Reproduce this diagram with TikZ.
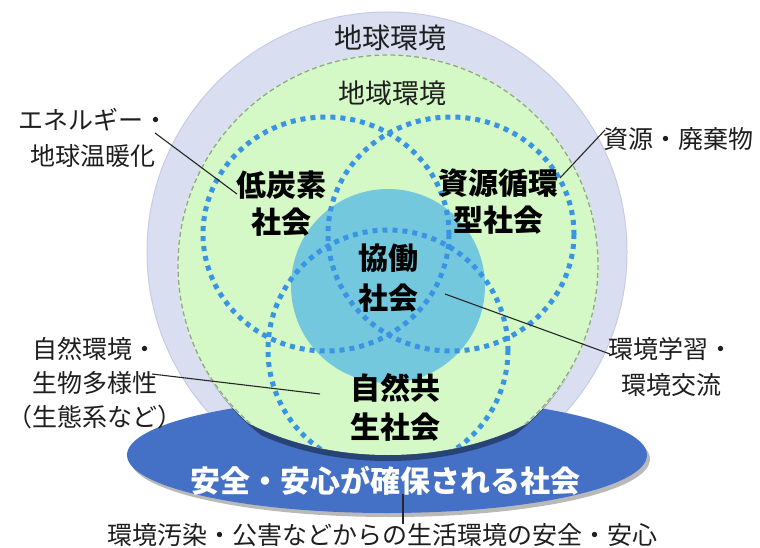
\documentclass[tikz,border=0pt]{standalone}
\usepackage{fontspec}
\setmainfont{Noto Sans CJK JP}
\definecolor{lav}{RGB}{218,222,241}
\definecolor{lavb}{RGB}{198,204,232}
\definecolor{grn}{RGB}{212,249,198}
\definecolor{grnb}{RGB}{150,162,150}
\definecolor{tealc}{RGB}{116,200,222}
\definecolor{dotc}{RGB}{58,148,228}
\definecolor{ellb}{RGB}{68,112,198}
\definecolor{txt}{RGB}{30,30,30}
\begin{document}
\begin{tikzpicture}[x=1pt,y=-1pt,
  lbl/.style={font=\fontsize{25}{36}\selectfont, text=txt, align=center, inner sep=0pt},
  bld/.style={font=\bfseries\fontsize{30}{37}\selectfont, text=black, align=center, inner sep=0pt},
  leader/.style={draw=black!85, line width=1.1pt},
  vdot/.style={draw=dotc, line width=5pt, dash pattern=on 5pt off 5pt}]
\useasboundingbox (0,0) rectangle (760,548);
\fill[white] (0,0) rectangle (760,548);
% outer circle (global environment)
\fill[lav, draw=lavb, line width=1pt] (387,252) circle[radius=240];
% base ellipse
\fill[gray!55] (390,459) ellipse[x radius=260, y radius=58];
\fill[ellb] (387,455) ellipse[x radius=260, y radius=58];
% shadow of the green disc
\begin{scope}[shift={(0,6)}]
  \clip (0,0) -- (760,0) -- (760,300) -- (618,300)
        arc[start angle=0, end angle=180, x radius=230, y radius=155] -- (0,300) -- cycle;
  \fill[black, opacity=0.4] (388,263) circle[radius=209];
\end{scope}
% green disc with its contents
\begin{scope}
  \clip (0,0) -- (760,0) -- (760,300) -- (618,300)
        arc[start angle=0, end angle=180, x radius=230, y radius=155] -- (0,300) -- cycle;
  \fill[grn] (388,265) circle[radius=211];
  \draw[grnb, line width=1.3pt, dash pattern=on 5pt off 3pt] (388,265) circle[radius=210];
  \fill[tealc] (388,286) circle[radius=97];
  \draw[vdot] (326,234) ellipse[x radius=123, y radius=117];
  \draw[vdot] (451,234) ellipse[x radius=123, y radius=117];
  \draw[vdot] (388,350) circle[radius=120];
\end{scope}
% texts
\node[lbl, font=\fontsize{28}{34}\selectfont] (earth) at (390,38) {地球環境};
\node[lbl, font=\fontsize{27}{34}\selectfont] (region) at (392,93) {地域環境};
\node[lbl] (energy) at (93,138) {エネルギー・\\地球温暖化};
\node[lbl] (res) at (678,139) {資源・廃棄物};
\node[lbl, font=\fontsize{25}{34}\selectfont] (bio) at (95,383) {自然環境・\\生物多様性\\（生態系など）};
\node[lbl] (edu) at (671,367) {環境学習・\\環境交流};
\node[bld] (lowc) at (281,204) {低炭素\\社会};
\node[bld] (recyc) at (498,202) {資源循環\\型社会};
\node[bld, font=\bfseries\fontsize{30}{40}\selectfont] (collab) at (388,278) {協働\\社会};
\node[bld, font=\bfseries\fontsize{30}{39}\selectfont] (nature) at (395,407) {自然共\\生社会};
\node[font=\bfseries\fontsize{30}{36}\selectfont, text=white, inner sep=0pt] (safe) at (385,481) {安全・安心が確保される社会};
\node[lbl] (pollu) at (382,535) {環境汚染・公害などからの生活環境の安全・安心};
% leaders
\coordinate (e1) at (155,133); \coordinate (e2) at (237,194);
\coordinate (r1) at (560,178); \coordinate (r2) at (605,130);
\coordinate (b1) at (152,374); \coordinate (b2) at (320,394);
\coordinate (c1) at (445,294); \coordinate (c2) at (610,354);
\coordinate (s1) at (403,494); \coordinate (s2) at (403,524);
\draw[leader] (e1) -- (e2);
\draw[leader] (r1) -- (r2);
\draw[leader] (b1) -- (b2);
\draw[leader] (c1) -- (c2);
\draw[leader] (s1) -- (s2);
\end{tikzpicture}
\end{document}
